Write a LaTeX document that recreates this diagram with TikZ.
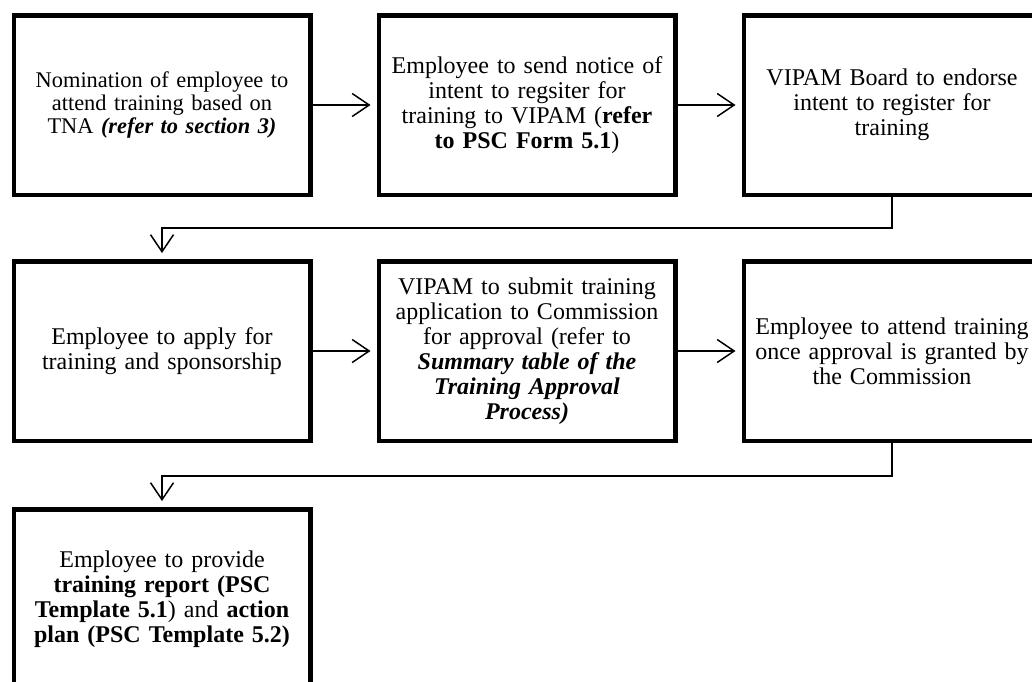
\documentclass[tikz,border=0pt]{standalone}
\usepackage{fontspec}
\setmainfont{Liberation Serif}
\usetikzlibrary{arrows.meta}

\tikzset{
  stepbox/.style={draw=black, line width=4.5pt, rectangle,
    minimum width=296.5pt, minimum height=179.5pt, inner sep=0pt,
    text width=290pt, align=center,
    font=\fontsize{24}{25}\selectfont},
  smalltext/.style={font=\fontsize{22.4}{23}\selectfont},
  flow/.style={line width=1.5pt,
    -{Straight Barb[length=17pt,width=23pt,line width=1.5pt]},
    shorten >=6pt}
}

\begin{document}
\begin{tikzpicture}[x=1pt,y=1pt]
  \useasboundingbox (0,0) rectangle (1032,-681);
  \clip (0,0) rectangle (1032,-681);

  % first row
  \node[stepbox, smalltext] (b1) at (162,-105) {Nomination of employee to\\ attend training based on\\ TNA \textbf{\textit{(refer to section 3)}}};
  \node[stepbox] (b2) at (527,-105) {Employee to send notice of\\ intent to regsiter for\\ training to VIPAM (\textbf{refer\\ to PSC Form 5.1})};
  \node[stepbox] (b3) at (892,-105) {VIPAM Board to endorse\\ intent to register for\\ training};

  % second row
  \node[stepbox] (b4) at (162,-351) {Employee to apply for\\ training and sponsorship};
  \node[stepbox] (b5) at (527,-351) {VIPAM to submit training\\ application to Commission\\ for approval (refer to\\ \textbf{\textit{Summary table of the\\ Training Approval\\ Process)}}};
  \node[stepbox] (b6) at (892,-351) {Employee to attend training\\ once approval is granted by\\ the Commission};

  % third row
  \node[stepbox] (b7) at (162,-599) {Employee to provide\\ \textbf{training report (PSC\\ Template 5.1}) and \textbf{action\\ plan (PSC Template 5.2)}};

  % connectors
  \draw[flow] (b1.east) -- (b2.west);
  \draw[flow] (b2.east) -- (b3.west);
  \draw[flow] (b3.south) -- ++(0,-31) -| (b4.north);
  \draw[flow] (b4.east) -- (b5.west);
  \draw[flow] (b5.east) -- (b6.west);
  \draw[flow] (b6.south) -- ++(0,-33) -| (b7.north);
\end{tikzpicture}
\end{document}
